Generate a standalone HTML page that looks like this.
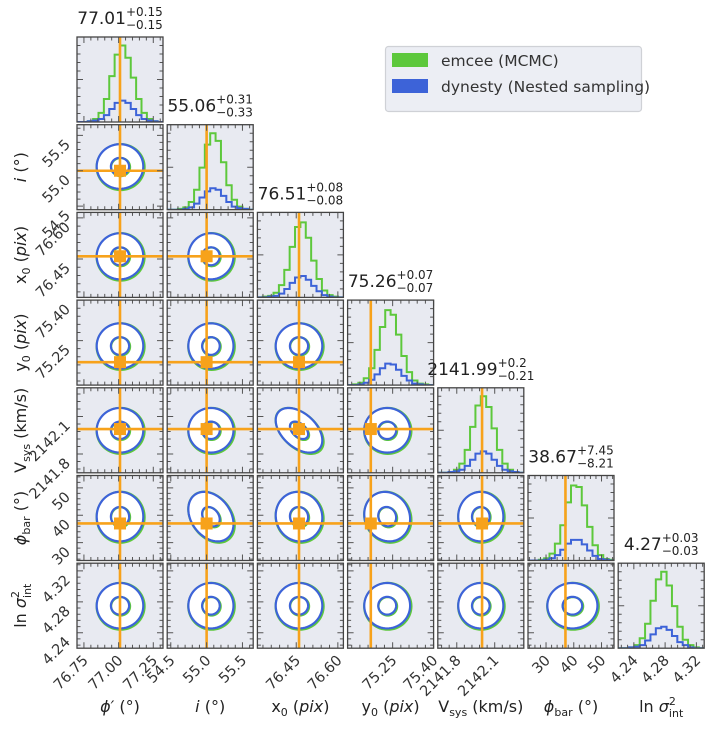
<!DOCTYPE html>
<html><head><meta charset="utf-8">
<style>
html,body{margin:0;padding:0;background:#fff;}
svg{display:block;font-family:"DejaVu Sans","Liberation Sans",sans-serif;}
</style></head>
<body>
<svg id="fig" width="720" height="731" viewBox="0 0 720 731" xmlns="http://www.w3.org/2000/svg">
<g id="legend">
<rect x="385.5" y="46.5" width="256" height="65" rx="3" fill="#eceef4" stroke="#cfd1d6" stroke-width="1.2"/>
<rect x="392" y="53" width="36" height="14" fill="#5dc83c"/>
<text x="441" y="66" font-size="15.5" fill="#333">emcee (MCMC)</text>
<rect x="392" y="79" width="36" height="14" fill="#3d63d8"/>
<text x="441" y="92" font-size="15.5" fill="#333">dynesty (Nested sampling)</text>
</g>
</svg>
<script>
// ---- data ----
const paramNames = ["phi-prime","inclination","x0","y0","v-sys","phi-bar","ln-sigma-int"];
const rangeLo = [76.70, 54.45, 76.31, 75.085, 2141.65, 23.5, 4.22];
const rangeHi = [77.32, 55.65, 76.62, 75.40, 2142.33, 54.5, 4.33];
const tickVals = [[76.75,77.00,77.25],[54.5,55.0,55.5],[76.45,76.60],[75.25,75.40],[2141.8,2142.1],[30,40,50],[4.24,4.28,4.32]];
const tickLabels = [["76.75","77.00","77.25"],["54.5","55.0","55.5"],["76.45","76.60"],["75.25","75.40"],["2141.8","2142.1"],["30","40","50"],["4.24","4.28","4.32"]];
const truths = [77.01, 55.0, 76.46, 75.17, 2142.0, 37.0, null];
const means = [77.01, 55.06, 76.46, 75.23, 2141.99, 39.5, 4.275];
const sigmas = [0.08, 0.15, 0.04, 0.04, 0.085, 4.3, 0.014];
const titleVal = ["77.01","55.06","76.51","75.26","2141.99","38.67","4.27"];
const titlePlus = ["+0.15","+0.31","+0.08","+0.07","+0.2","+7.45","+0.03"];
const titleMinus = ["\u22120.15","\u22120.33","\u22120.08","\u22120.07","\u22120.21","\u22128.21","\u22120.03"];
const greenHist = [
 [0,0,1,4,12,30,60,88,100,84,58,30,12,4,1,0],
 [0,0,1,3,10,26,55,85,100,90,62,32,13,4,1,0],
 [0,1,2,6,16,36,66,92,98,78,48,24,9,3,1,0],
 [0,1,3,9,22,46,76,98,92,66,38,17,6,2,1,0],
 [0,0,1,4,12,30,60,88,100,86,58,30,12,4,1,0],
 [0,0,1,3,9,22,46,76,98,96,72,44,20,7,2,1],
 [0,0,1,4,13,32,62,90,100,82,55,28,11,4,1,0]];
const blueHist = [
 [0,0,1,2,4,9,17,25,28,25,17,9,4,2,1,0],
 [0,0,0,1,3,8,16,24,28,26,18,10,4,2,1,0],
 [0,0,1,2,5,11,19,26,28,23,15,8,3,1,0,0],
 [0,0,1,3,7,14,22,28,27,20,12,6,2,1,0,0],
 [0,0,1,2,4,9,17,25,28,25,17,9,4,2,1,0],
 [0,0,0,1,3,7,14,22,27,27,21,13,6,2,1,0],
 [0,0,1,2,4,10,18,26,28,24,16,8,4,1,0,0]];
const corrPairs = {"4,2":-0.45,"5,1":-0.3,"5,3":-0.1,"5,2":-0.05};
const contourLevels = [0.82, 2.1];

// ---- layout ----
const NS="http://www.w3.org/2000/svg";
const svg=document.getElementById('fig');
const N=7, PW=86, PH=85;
const colL=k=>77+90.2*k, rowT=k=>37+87.7*k;
const GREEN="#5dc83c", BLUE="#3d63d8", ORANGE="#f7a21b", BG="#e8eaf1";
function el(tag,attrs,parent){const e=document.createElementNS(NS,tag);for(const k in attrs)e.setAttribute(k,attrs[k]);(parent||svg).appendChild(e);return e;}
const xScale=(p,v,c)=>colL(c)+(v-rangeLo[p])/(rangeHi[p]-rangeLo[p])*PW;
const yScale=(p,v,r)=>rowT(r)+PH-(v-rangeLo[p])/(rangeHi[p]-rangeLo[p])*PH;
const defs=el('defs',{});

function ticks(g,c,r,xp,yp){
  const x0=colL(c),y0=rowT(r);
  let d="";
  function axisTicks(p,horiz){
    const tv=tickVals[p]; const step=(tv.length>1?tv[1]-tv[0]:0.1)/5;
    const lo=rangeLo[p],hi=rangeHi[p];
    let start=tv[0]-Math.floor((tv[0]-lo)/step)*step;
    for(let v=start;v<=hi+1e-9;v+=step){
      const major=tv.some(t=>Math.abs(t-v)<step*0.3);
      const L=major?6:3.5;
      if(horiz){const x=xScale(p,v,c);d+=`M${x},${y0+PH}v${-L}M${x},${y0}v${L}`;}
      else{const y=yScale(p,v,r);d+=`M${x0},${y}h${L}M${x0+PW},${y}h${-L}`;}
    }
  }
  axisTicks(xp,true);
  if(yp!==null) axisTicks(yp,false);
  else{for(let k=1;k<10;k++){const y=y0+PH*k/10;const L=k%5==0?6:3.5;d+=`M${x0},${y}h${L}M${x0+PW},${y}h${-L}`;}}
  const t=el('path',{d:d,stroke:"#555","stroke-width":1,fill:"none"},g);
  
  
}

function ellipsePath(c,r,pc,pr,lev,scale,rho,dx,dy){
  const cx=xScale(pc,means[pc],c)+dx, cy=yScale(pr,means[pr],r)+dy;
  const sx=sigmas[pc]/(rangeHi[pc]-rangeLo[pc])*PW*scale, sy=sigmas[pr]/(rangeHi[pr]-rangeLo[pr])*PH*scale;
  const s=Math.sqrt(1-rho*rho); let d="";
  for(let i=0;i<=72;i++){const t=i/72*2*Math.PI;const x=cx+lev*sx*Math.cos(t);const y=cy-lev*sy*(rho*Math.cos(t)+s*Math.sin(t));d+=(i?"L":"M")+x.toFixed(2)+","+y.toFixed(2);}
  return d+"Z";
}

for(let r=0;r<N;r++){
  for(let c=0;c<=r;c++){
    const g=el('g',{});
    
    
    const x0=colL(c),y0=rowT(r);
    const cp=el('clipPath',{id:`cp${r}_${c}`},defs);
    el('rect',{x:x0,y:y0,width:PW,height:PH},cp);
    el('rect',{x:x0,y:y0,width:PW,height:PH,fill:BG},g);
    const inner=el('g',{"clip-path":`url(#cp${r}_${c})`},g);
    if(r===c){
      const p=c, nb=greenHist[p].length, maxv=100;
      [[greenHist[p],GREEN,'histogram-emcee'],[blueHist[p],BLUE,'histogram-dynesty']].forEach(([arr,col,nm])=>{
        let d="";const bw=(rangeHi[p]-rangeLo[p])/nb;
        for(let b=0;b<nb;b++){
          const xa=xScale(p,rangeLo[p]+b*bw,c),xb=xScale(p,rangeLo[p]+(b+1)*bw,c);
          const y=y0+PH-arr[b]/maxv*PH*0.9;
          d+=(b?"L":"M")+xa+","+y+"L"+xb+","+y;
        }
        const h=el('path',{d:d,fill:"none",stroke:col,"stroke-width":2},inner);
        
        
      });
      if(truths[p]!==null){const x=xScale(p,truths[p],c);el('line',{x1:x,x2:x,y1:y0,y2:y0+PH,stroke:ORANGE,"stroke-width":2.6},inner);}
    } else {
      const rho=corrPairs[r+","+c]||0;
      el('path',{d:ellipsePath(c,r,c,r,contourLevels[1],1.03,rho*1.05,0.6,0.6),fill:"#fff",stroke:GREEN,"stroke-width":2.2},inner);
      el('path',{d:ellipsePath(c,r,c,r,contourLevels[1],1.0,rho,0,0),fill:"#fff",stroke:BLUE,"stroke-width":2.2},inner);
      el('path',{d:ellipsePath(c,r,c,r,contourLevels[0],1.04,rho*1.05,0.6,0.6),fill:"none",stroke:GREEN,"stroke-width":2.2},inner);
      const ce=el('path',{d:ellipsePath(c,r,c,r,contourLevels[0],1.0,rho,0,0),fill:"none",stroke:BLUE,"stroke-width":2.2},inner);
      
      
      const tx=truths[c]!==null?xScale(c,truths[c],c):null;
      const ty=truths[r]!==null?yScale(r,truths[r],r):null;
      if(tx!==null) el('line',{x1:tx,x2:tx,y1:y0,y2:y0+PH,stroke:ORANGE,"stroke-width":2.6},inner);
      if(ty!==null) el('line',{x1:x0,x2:x0+PW,y1:ty,y2:ty,stroke:ORANGE,"stroke-width":2.6},inner);
      if(tx!==null&&ty!==null){
        const m=el('rect',{x:tx-6,y:ty-6,width:12,height:12,fill:ORANGE},inner);
        
        
      }
    }
    ticks(g,c,r,c,r===c?null:r);
    el('rect',{x:x0,y:y0,width:PW,height:PH,fill:"none",stroke:"#444","stroke-width":1.3},g);
  }
}

// tick labels
for(let c=0;c<N;c++){
  tickVals[c].forEach((v,k)=>{
    const x=xScale(c,v,c), y=rowT(6)+PH+8;
    const t=el('text',{x:x+5,y:y+5,"font-size":14.5,fill:"#333","text-anchor":"end",transform:`rotate(-45 ${x+5} ${y+5})`});
    t.textContent=tickLabels[c][k];
    
    
  });
}
for(let r=1;r<N;r++){
  tickVals[r].forEach((v,k)=>{
    const y=yScale(r,v,r), x=colL(0)-6;
    const t=el('text',{x:x,y:y+10,"font-size":14.5,fill:"#333","text-anchor":"end",transform:`rotate(-45 ${x} ${y+10})`});
    t.textContent=tickLabels[r][k];
    
    
  });
}

// axis label parts
const labels=[
 [["\u03d5\u2032","i"],[" (\u00b0)"]],
 [["i","i"],[" (\u00b0)"]],
 [["x"],["0","sub"],[" ("],["pix","i"],[")"]],
 [["y"],["0","sub"],[" ("],["pix","i"],[")"]],
 [["V"],["sys","sub"],[" (km/s)"]],
 [["\u03d5","i"],["bar","sub"],[" (\u00b0)"]],
 [["ln  "],["\u03c3","i"],["2","sup"],["int","sub2"]]];
function buildLabel(t,parts){
  let shift=0;
  parts.forEach(([s,m])=>{
    const ts=el('tspan',{},t);ts.textContent=s;
    if(m==="i") ts.setAttribute('font-style','italic');
    let target=0;
    if(m==="sub"){target=4;ts.setAttribute('font-size',11);}
    if(m==="sup"){target=-7;ts.setAttribute('font-size',11);}
    if(m==="sub2"){target=5;ts.setAttribute('font-size',11);ts.setAttribute('dx',-7);}
    ts.setAttribute('dy',target-shift);shift=target;
  });
}
for(let c=0;c<N;c++){
  const t=el('text',{x:colL(c)+PW/2,y:712,"font-size":16,fill:"#222","text-anchor":"middle"});
  
  
  buildLabel(t,labels[c]);
}
for(let r=1;r<N;r++){
  const cy=rowT(r)+PH/2;
  const t=el('text',{x:0,y:0,"font-size":16,fill:"#222","text-anchor":"middle",transform:`translate(26 ${cy}) rotate(-90)`});
  
  
  buildLabel(t,labels[r]);
}
// titles
for(let p=0;p<N;p++){
  const cx=colL(p)+PW/2, y=rowT(p)-13;
  const g=el('g',{});
  
  
  const main=el('text',{x:0,y:y,"font-size":17,fill:"#222"},g);main.textContent=titleVal[p];
  const sup=el('text',{x:0,y:y-8,"font-size":12,fill:"#222"},g);sup.textContent=titlePlus[p];
  const sub=el('text',{x:0,y:y+5,"font-size":12,fill:"#222"},g);sub.textContent=titleMinus[p];
  const wm=main.getComputedTextLength(), ws=Math.max(sup.getComputedTextLength(),sub.getComputedTextLength());
  const left=cx-(wm+ws)/2;
  main.setAttribute('x',left);sup.setAttribute('x',left+wm);sub.setAttribute('x',left+wm);
}
svg.appendChild(document.getElementById('legend'));
</script>
</body></html>
